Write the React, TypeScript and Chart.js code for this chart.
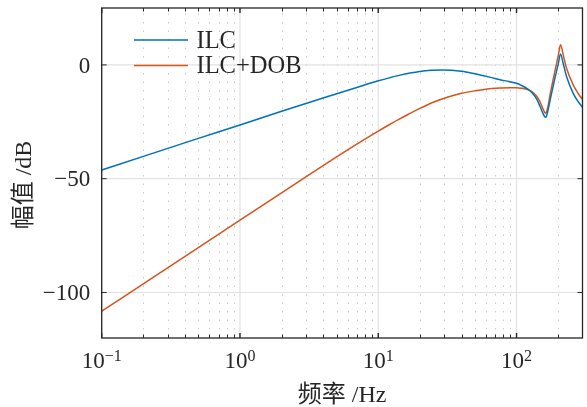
import React, { useEffect, useRef } from "react";
import { Chart, registerables } from "chart.js";

Chart.register(...registerables);

// ---- Data ----
const freqILC = [0.1, 0.2, 0.5, 1, 2, 5, 7, 10, 12, 14.4, 17, 20, 24, 29, 34, 40, 48, 57, 66, 76, 88, 100, 110, 120, 130, 140, 148, 155, 160, 163, 168, 175, 190, 200, 208, 218, 230, 257, 280, 300];
const magILC = [-46.2, -40.2, -32.3, -26.4, -20.4, -12.7, -9.9, -7.0, -5.7, -4.5, -3.6, -2.9, -2.4, -2.2, -2.3, -2.8, -3.7, -4.7, -5.6, -6.5, -7.3, -8.1, -9.2, -10.5, -12.3, -15.0, -18.3, -21.2, -22.8, -23.0, -20.5, -15.5, -5.5, 0.2, 4.8, 0.4, -5.1, -12.5, -16.3, -18.6];

const freqDOB = [0.1, 0.2, 0.5, 1, 2, 5, 7, 10, 12, 14.4, 17, 20, 25, 32, 40, 50, 60, 76, 90, 100, 110, 120, 130, 140, 148, 155, 160, 163, 168, 175, 190, 200, 208, 218, 230, 257, 280, 300];
const magDOB = [-108.2, -96.2, -80.3, -68.2, -56.2, -40.4, -34.8, -29.1, -26.3, -23.6, -21.3, -19.1, -16.4, -14.1, -12.5, -11.4, -10.7, -10.2, -10.0, -10.0, -10.3, -10.8, -11.8, -13.8, -16.3, -19.2, -20.9, -21.2, -18.8, -13.0, -2.4, 3.8, 8.8, 4.2, -1.5, -8.8, -12.7, -15.1];

const seriesLabels = ["ILC", "ILC+DOB"];
const seriesColors = ["#0072BD", "#D95319"];

const xMajorTicks = [0.1, 1, 10, 100];
const xTickExponents = ["\u22121", "0", "1", "2"];
const yTicks = [-100, -50, 0];
const yTickLabels = ["\u2212100", "\u221250", "0"];

const xTitle = "频率 /Hz";
const yTitle = "幅值 /dB";

const X_MIN = 0.1;
const X_MAX = 300;
const Y_MIN = -120;
const Y_MAX = 25;

const TEXT = "#262626";
const FONT_FAMILY = '"Liberation Serif", "Noto Sans CJK SC", serif';

function minorTicks(): number[] {
  const out: number[] = [];
  for (const d of xMajorTicks) {
    for (let m = 2; m <= 9; m++) {
      const v = d * m;
      if (v > X_MIN && v < X_MAX) out.push(v);
    }
  }
  return out;
}

const axesPlugin = {
  id: "matlabAxes",
  beforeDatasetsDraw(chart: any) {
    const { ctx, chartArea: a, scales } = chart;
    const x = scales.x;
    const y = scales.y;
    ctx.save();
    // minor dotted grid
    ctx.strokeStyle = "#c8c8c8";
    ctx.lineWidth = 1;
    ctx.setLineDash([1.5, 7]);
    for (const v of minorTicks()) {
      const px = Math.round(x.getPixelForValue(v)) + 0.5;
      ctx.beginPath();
      ctx.moveTo(px, a.bottom);
      ctx.lineTo(px, a.top);
      ctx.stroke();
    }
    // major grid
    ctx.setLineDash([]);
    ctx.strokeStyle = "#e2e2e2";
    ctx.lineWidth = 1.2;
    for (const v of xMajorTicks) {
      const px = x.getPixelForValue(v);
      ctx.beginPath();
      ctx.moveTo(px, a.top);
      ctx.lineTo(px, a.bottom);
      ctx.stroke();
    }
    for (const v of yTicks) {
      const py = y.getPixelForValue(v);
      ctx.beginPath();
      ctx.moveTo(a.left, py);
      ctx.lineTo(a.right, py);
      ctx.stroke();
    }
    ctx.restore();
  },
  afterDatasetsDraw(chart: any) {
    const { ctx, chartArea: a, scales } = chart;
    const x = scales.x;
    const y = scales.y;
    ctx.save();
    // box
    ctx.strokeStyle = TEXT;
    ctx.lineWidth = 1.3;
    ctx.strokeRect(a.left, a.top, a.right - a.left, a.bottom - a.top);
    // ticks (inward)
    const majorLen = 5;
    const minorLen = 3.5;
    for (const v of xMajorTicks) {
      const px = x.getPixelForValue(v);
      ctx.lineWidth = 1.4;
      ctx.beginPath();
      ctx.moveTo(px, a.bottom);
      ctx.lineTo(px, a.bottom - majorLen);
      ctx.moveTo(px, a.top);
      ctx.lineTo(px, a.top + majorLen);
      ctx.stroke();
    }
    ctx.lineWidth = 1;
    for (const v of minorTicks()) {
      const px = Math.round(x.getPixelForValue(v)) + 0.5;
      ctx.beginPath();
      ctx.moveTo(px, a.bottom);
      ctx.lineTo(px, a.bottom - minorLen);
      ctx.moveTo(px, a.top);
      ctx.lineTo(px, a.top + minorLen);
      ctx.stroke();
    }
    for (const v of yTicks) {
      const py = y.getPixelForValue(v);
      ctx.beginPath();
      ctx.moveTo(a.left, py);
      ctx.lineTo(a.left + majorLen, py);
      ctx.moveTo(a.right, py);
      ctx.lineTo(a.right - majorLen, py);
      ctx.stroke();
    }

    // y tick labels
    ctx.fillStyle = TEXT;
    ctx.font = `23px ${FONT_FAMILY}`;
    ctx.textAlign = "right";
    ctx.textBaseline = "alphabetic";
    yTicks.forEach((v, i) => {
      const py = y.getPixelForValue(v);
      ctx.fillText(yTickLabels[i], a.left - 11.5, py + 7.8);
    });

    // x tick labels: 10^k
    xMajorTicks.forEach((v, i) => {
      const px = x.getPixelForValue(v);
      ctx.font = `23px ${FONT_FAMILY}`;
      const bw = ctx.measureText("10").width;
      ctx.font = `16px ${FONT_FAMILY}`;
      const ew = ctx.measureText(xTickExponents[i]).width;
      const start = px - (bw + ew) / 2;
      ctx.textAlign = "left";
      ctx.font = `23px ${FONT_FAMILY}`;
      ctx.fillText("10", start, a.bottom + 30);
      ctx.font = `16px ${FONT_FAMILY}`;
      ctx.fillText(xTickExponents[i], start + bw, a.bottom + 23);
    });

    // axis titles
    ctx.font = `24px ${FONT_FAMILY}`;
    ctx.textAlign = "center";
    ctx.textBaseline = "alphabetic";
    ctx.fillText(xTitle, (a.left + a.right) / 2, 402);

    ctx.save();
    ctx.translate(31, 185);
    ctx.rotate(-Math.PI / 2);
    ctx.fillText(yTitle, 0, 0);
    ctx.restore();

    // legend
    const legendY = [40, 65.5];
    ctx.font = `24.5px ${FONT_FAMILY}`;
    ctx.textAlign = "left";
    seriesLabels.forEach((lab, i) => {
      ctx.strokeStyle = seriesColors[i];
      ctx.lineWidth = 1.5;
      ctx.beginPath();
      ctx.moveTo(134, legendY[i]);
      ctx.lineTo(188, legendY[i]);
      ctx.stroke();
      ctx.fillStyle = TEXT;
      ctx.fillText(lab, 196.5, legendY[i] + 7.5);
    });
    ctx.restore();
  },
};

export default function App() {
  const canvasRef = useRef<HTMLCanvasElement | null>(null);

  useEffect(() => {
    const canvas = canvasRef.current;
    if (!canvas) return;
    const chart = new Chart(canvas, {
      type: "line",
      data: {
        datasets: [
          {
            label: seriesLabels[0],
            data: freqILC.map((f, i) => ({ x: f, y: magILC[i] })),
            borderColor: seriesColors[0],
            borderWidth: 1.5,
            pointRadius: 0,
            cubicInterpolationMode: "monotone",
            fill: false,
          },
          {
            label: seriesLabels[1],
            data: freqDOB.map((f, i) => ({ x: f, y: magDOB[i] })),
            borderColor: seriesColors[1],
            borderWidth: 1.5,
            pointRadius: 0,
            cubicInterpolationMode: "monotone",
            fill: false,
          },
        ],
      },
      options: {
        responsive: false,
        animation: false,
        devicePixelRatio: 1,
        layout: { padding: { top: 8, right: 4.5, left: 0, bottom: 0 } },
        plugins: { legend: { display: false }, tooltip: { enabled: false } },
        events: [],
        scales: {
          x: {
            type: "logarithmic",
            min: X_MIN,
            max: X_MAX,
            grid: { display: false },
            border: { display: false },
            ticks: { display: false },
            afterFit(s: any) {
              s.height = 69;
            },
          },
          y: {
            type: "linear",
            min: Y_MIN,
            max: Y_MAX,
            grid: { display: false },
            border: { display: false },
            ticks: { display: false },
            afterFit(s: any) {
              s.width = 101.7;
            },
          },
        },
      },
      plugins: [axesPlugin],
    } as any);
    return () => chart.destroy();
  }, []);

  return (
    <div style={{ position: "fixed", left: 0, top: 0, width: 587, height: 407, background: "#fff" }}>
      <canvas ref={canvasRef} width={587} height={407} style={{ display: "block" }} />
    </div>
  );
}
